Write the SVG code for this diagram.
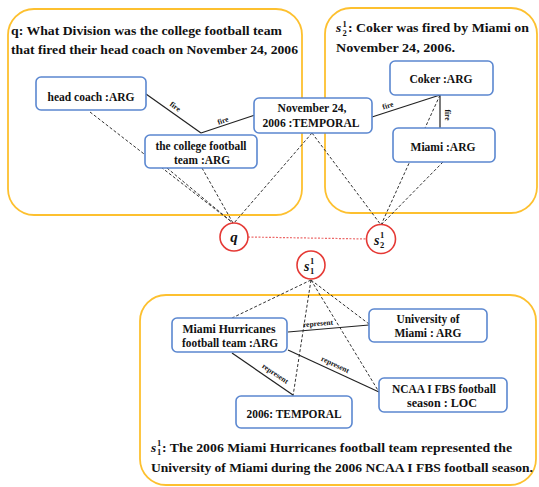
<svg xmlns="http://www.w3.org/2000/svg" width="539" height="487" viewBox="0 0 539 487">
<style>
.yb{fill:none;stroke:#FDC02F;stroke-width:1.8}
.nd{fill:#fff;stroke:#5B87D0;stroke-width:1.6}
.t{font-family:'Liberation Serif','Times New Roman',serif;font-weight:bold;fill:#111}
.nt{font-size:11.5px;text-anchor:middle}
.tt{font-size:13.5px}
.el{font-size:7.5px;text-anchor:middle}
.sl{stroke:#222;stroke-width:1.2;fill:none}
.dl{stroke:#333;stroke-width:1;stroke-dasharray:3 2;fill:none}
.ci{fill:#fff;stroke:#E53935;stroke-width:1.6}
.rl{stroke:#EC6A6A;stroke-width:1.2;stroke-dasharray:2 1.5;fill:none}
.sm{font-size:8.5px}
</style>
<rect width="539" height="487" fill="#fff"/>
<g id="box-q">
<rect class="yb" x="8" y="9" width="294" height="206" rx="26"/>
<text class="t tt" x="11" y="35" textLength="271" lengthAdjust="spacingAndGlyphs">q: What Division was the college football team</text>
<text class="t tt" x="11" y="54" textLength="287" lengthAdjust="spacingAndGlyphs">that fired their head coach on November 24, 2006</text>
</g>
<g id="box-s2">
<rect class="yb" x="325" y="8" width="212" height="205" rx="26"/>
<text class="t tt" x="336" y="32" font-style="italic">s</text>
<text class="t sm" x="342.5" y="27">1</text>
<text class="t sm" x="342.5" y="36">2</text>
<text class="t tt" x="348" y="32" textLength="181" lengthAdjust="spacingAndGlyphs">: Coker was fired by Miami on</text>
<text class="t tt" x="336" y="52" textLength="119" lengthAdjust="spacingAndGlyphs">November 24,  2006.</text>
</g>
<g id="box-s1">
<rect class="yb" x="140" y="295" width="396" height="190" rx="26"/>
<text class="t tt" x="151" y="452" font-style="italic">s</text>
<text class="t sm" x="157" y="446">1</text>
<text class="t sm" x="157" y="455">1</text>
<text class="t tt" x="162" y="452" textLength="350" lengthAdjust="spacingAndGlyphs">: The 2006 Miami Hurricanes football team represented the</text>
<text class="t tt" x="151" y="472" textLength="382" lengthAdjust="spacingAndGlyphs">University of Miami during the 2006 NCAA I FBS football season.</text>
</g>
<g id="connectors">
<line class="dl" x1="90" y1="112" x2="233" y2="223"/>
<line class="dl" x1="167" y1="168" x2="233" y2="223"/>
<line class="dl" x1="202" y1="168" x2="233" y2="223"/>
<line class="dl" x1="312" y1="133" x2="234" y2="223"/>
<line class="dl" x1="312" y1="133" x2="381" y2="225"/>
<line class="dl" x1="440" y1="95" x2="381" y2="225"/>
<line class="dl" x1="443" y1="162" x2="381" y2="225"/>
<line class="rl" x1="248" y1="237" x2="367" y2="239"/>
<line class="dl" x1="311" y1="280" x2="232" y2="318"/>
<line class="dl" x1="311" y1="280" x2="293" y2="396"/>
<line class="dl" x1="311" y1="280" x2="379" y2="392"/>
<line class="dl" x1="311" y1="280" x2="369" y2="324"/>
<line class="sl" x1="146" y1="94" x2="201" y2="133"/>
<line class="sl" x1="201" y1="133" x2="255" y2="115"/>
<line class="sl" x1="372" y1="117" x2="440" y2="95"/>
<line class="sl" x1="440" y1="95" x2="440" y2="128"/>
<line class="sl" x1="288" y1="332" x2="369" y2="325"/>
<line class="sl" x1="288" y1="350" x2="379" y2="392"/>
<line class="sl" x1="232" y1="353" x2="293" y2="395"/>
<text class="t el" transform="translate(175,107) rotate(36)" y="2">fire</text>
<text class="t el" transform="translate(223,121) rotate(-19)" y="2">fire</text>
<text class="t el" transform="translate(388,106) rotate(-18)" y="2">fire</text>
<text class="t el" transform="translate(447,115) rotate(90)" y="2">fire</text>
<text class="t el" transform="translate(318,324) rotate(-5)" y="2">represent</text>
<text class="t el" transform="translate(335,365) rotate(25)" y="2">represent</text>
<text class="t el" transform="translate(275,374) rotate(34)" y="2">represent</text>
</g>
<g id="n-headcoach">
<rect class="nd" x="36" y="77" width="110" height="33" rx="5"/>
<text class="t nt" x="91" y="101" textLength="87" lengthAdjust="spacingAndGlyphs">head coach :ARG</text>
</g>
<g id="n-college">
<rect class="nd" x="145" y="135" width="112" height="33" rx="5"/>
<text class="t nt" x="201" y="150" textLength="91" lengthAdjust="spacingAndGlyphs">the college football</text>
<text class="t nt" x="202" y="164" textLength="56" lengthAdjust="spacingAndGlyphs">team :ARG</text>
</g>
<g id="n-november">
<rect class="nd" x="254" y="98" width="118" height="35" rx="5"/>
<text class="t nt" x="312" y="112" textLength="69" lengthAdjust="spacingAndGlyphs">November 24,</text>
<text class="t nt" x="311" y="127" textLength="97" lengthAdjust="spacingAndGlyphs">2006 :TEMPORAL</text>
</g>
<g id="n-coker">
<rect class="nd" x="390" y="61" width="103" height="34" rx="5"/>
<text class="t nt" x="441" y="83" textLength="63" lengthAdjust="spacingAndGlyphs">Coker :ARG</text>
</g>
<g id="n-miami">
<rect class="nd" x="393" y="128" width="102" height="34" rx="5"/>
<text class="t nt" x="443" y="151" textLength="65" lengthAdjust="spacingAndGlyphs">Miami :ARG</text>
</g>
<g id="n-hurricanes">
<rect class="nd" x="172" y="318" width="115" height="34" rx="5"/>
<text class="t nt" x="229" y="333" textLength="93" lengthAdjust="spacingAndGlyphs">Miami Hurricanes</text>
<text class="t nt" x="230" y="347" textLength="96" lengthAdjust="spacingAndGlyphs">football team :ARG</text>
</g>
<g id="n-university">
<rect class="nd" x="369" y="309" width="118" height="33" rx="5"/>
<text class="t nt" x="428" y="323" textLength="63" lengthAdjust="spacingAndGlyphs">University of</text>
<text class="t nt" x="428" y="337" textLength="67" lengthAdjust="spacingAndGlyphs">Miami : ARG</text>
</g>
<g id="n-ncaa">
<rect class="nd" x="379" y="378" width="128" height="34" rx="5"/>
<text class="t nt" x="444" y="393" textLength="104" lengthAdjust="spacingAndGlyphs">NCAA I FBS football</text>
<text class="t nt" x="442" y="407" textLength="70" lengthAdjust="spacingAndGlyphs">season : LOC</text>
</g>
<g id="n-2006">
<rect class="nd" x="236" y="396" width="116" height="32" rx="5"/>
<text class="t nt" x="294" y="418" textLength="95" lengthAdjust="spacingAndGlyphs">2006: TEMPORAL</text>
</g>
<g id="c-q">
<circle class="ci" cx="234" cy="237" r="14"/>
<text class="t" x="234" y="242" font-size="15" font-style="italic" text-anchor="middle">q</text>
</g>
<g id="c-s2">
<circle class="ci" cx="381" cy="239" r="14.5"/>
<text class="t" x="374" y="245" font-size="14" font-style="italic">s</text>
<text class="t sm" x="380" y="238">1</text>
<text class="t sm" x="380" y="248">2</text>
</g>
<g id="c-s1">
<circle class="ci" cx="311" cy="265" r="14"/>
<text class="t" x="304" y="271" font-size="14" font-style="italic">s</text>
<text class="t sm" x="310" y="264">1</text>
<text class="t sm" x="310" y="274">1</text>
</g>
</svg>
